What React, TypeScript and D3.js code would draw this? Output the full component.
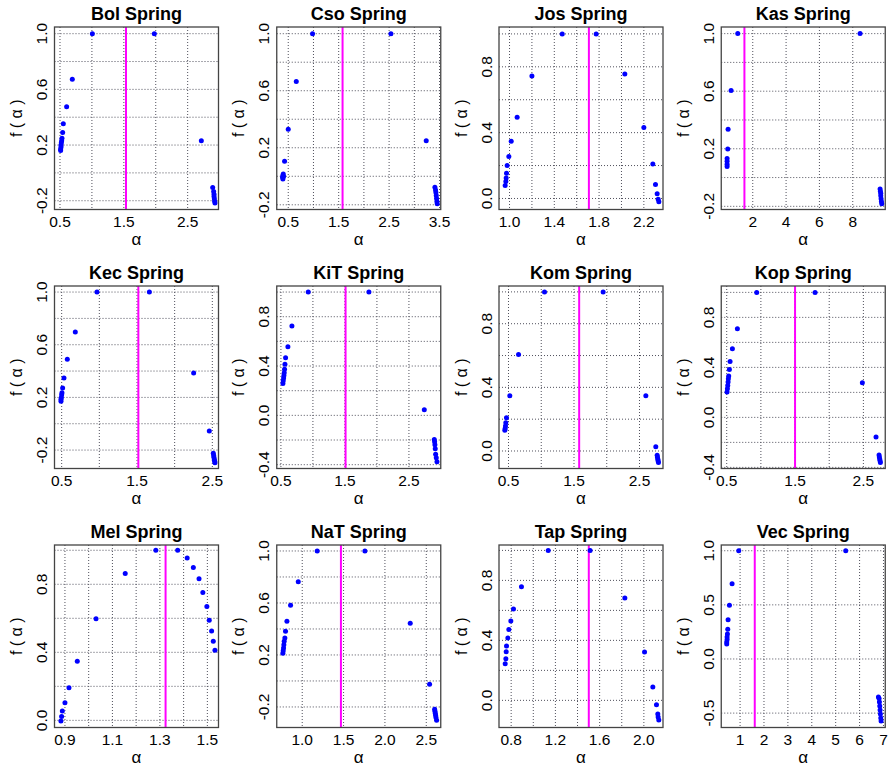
import React from 'react';
import * as d3 from 'd3';

type Pt = [number, number];

// Multifractal spectra: [α, f(α)] pairs for each spring
const bolSpring: Pt[] = [
  [1.007, 1.0], [1.978, 1.0], [0.693, 0.673], [0.604, 0.475], [0.552, 0.353], [0.542, 0.291],
  [0.531, 0.248], [0.526, 0.231], [0.521, 0.217], [0.516, 0.2], [0.516, 0.186], [0.51, 0.172],
  [0.51, 0.16], [2.714, 0.231], [2.892, -0.105], [2.907, -0.134], [2.913, -0.153], [2.913, -0.169],
  [2.918, -0.186], [2.923, -0.203], [2.928, -0.217],
];
const csoSpring: Pt[] = [
  [0.982, 1.0], [2.536, 1.0], [0.659, 0.664], [0.5, 0.329], [0.427, 0.105], [0.407, -0.002],
  [0.401, 0.016], [0.394, 0.005], [0.388, -0.007], [0.394, -0.019], [3.236, 0.249], [3.408, -0.077],
  [3.421, -0.096], [3.428, -0.114], [3.435, -0.135], [3.441, -0.156], [3.448, -0.177], [3.454, -0.193],
];
const josSpring: Pt[] = [
  [1.471, 1.0], [1.774, 1.0], [1.2, 0.745], [2.03, 0.756], [1.068, 0.493], [1.015, 0.347],
  [0.994, 0.255], [0.979, 0.2], [0.973, 0.154], [0.97, 0.125], [0.967, 0.103], [0.961, 0.079],
  [2.2, 0.432], [2.28, 0.21], [2.304, 0.085], [2.319, 0.028], [2.328, -0.004], [2.334, -0.02],
];
const kasSpring: Pt[] = [
  [1.1, 1.0], [8.44, 1.0], [0.7, 0.605], [0.52, 0.335], [0.5, 0.199], [0.46, 0.132], [0.46, 0.113],
  [0.46, 0.092], [0.46, 0.076], [9.64, -0.079], [9.66, -0.095], [9.68, -0.109], [9.68, -0.127],
  [9.7, -0.148], [9.72, -0.166], [9.74, -0.182],
];
const kecSpring: Pt[] = [
  [0.969, 1.0], [1.664, 1.0], [0.681, 0.696], [0.575, 0.489], [0.531, 0.347], [0.513, 0.271],
  [0.504, 0.235], [0.5, 0.22], [0.496, 0.2], [0.491, 0.185], [0.491, 0.17], [2.252, 0.385],
  [2.46, -0.056], [2.513, -0.225], [2.518, -0.241], [2.522, -0.256], [2.527, -0.271], [2.531, -0.284],
  [2.535, -0.296],
];
const kitSpring: Pt[] = [
  [0.927, 1.0], [1.875, 1.0], [0.672, 0.724], [0.609, 0.557], [0.573, 0.468], [0.563, 0.414],
  [0.557, 0.373], [0.552, 0.346], [0.547, 0.324], [0.542, 0.303], [0.536, 0.281], [0.531, 0.259],
  [2.74, 0.046], [2.896, -0.195], [2.901, -0.214], [2.906, -0.238], [2.911, -0.27], [2.917, -0.316],
  [2.927, -0.343], [2.938, -0.376],
];
const komSpring: Pt[] = [
  [1.05, 1.0], [1.945, 1.0], [0.653, 0.607], [0.52, 0.348], [0.469, 0.209], [0.459, 0.178],
  [0.454, 0.157], [0.449, 0.142], [0.444, 0.13], [2.597, 0.348], [2.749, 0.027], [2.77, -0.027],
  [2.775, -0.04], [2.78, -0.052], [2.785, -0.063], [2.79, -0.073],
];
const kopSpring: Pt[] = [
  [0.939, 1.0], [1.793, 1.0], [0.656, 0.709], [0.583, 0.549], [0.549, 0.448], [0.539, 0.384],
  [0.529, 0.331], [0.524, 0.309], [0.52, 0.283], [0.515, 0.256], [0.51, 0.229], [0.505, 0.203],
  [2.485, 0.277], [2.685, -0.157], [2.729, -0.301], [2.734, -0.317], [2.739, -0.333], [2.744, -0.347],
  [2.749, -0.36],
];
const melSpring: Pt[] = [
  [0.883, -0.004], [0.886, 0.022], [0.889, 0.055], [0.9, 0.104], [0.917, 0.192], [0.952, 0.347],
  [1.031, 0.598], [1.154, 0.863], [1.283, 1.0], [1.375, 1.0], [1.415, 0.955], [1.441, 0.898],
  [1.465, 0.833], [1.481, 0.751], [1.498, 0.669], [1.508, 0.588], [1.518, 0.525], [1.525, 0.465],
  [1.532, 0.412],
];
const natSpring: Pt[] = [
  [1.181, 1.0], [1.758, 1.0], [0.952, 0.764], [0.859, 0.582], [0.815, 0.459], [0.798, 0.382],
  [0.79, 0.331], [0.782, 0.305], [0.778, 0.279], [0.774, 0.254], [0.77, 0.233], [0.766, 0.213],
  [2.306, 0.444], [2.54, -0.026], [2.601, -0.218], [2.605, -0.233], [2.609, -0.249], [2.613, -0.264],
  [2.617, -0.282], [2.625, -0.303],
];
const tapSpring: Pt[] = [
  [1.135, 1.0], [1.514, 1.0], [0.893, 0.758], [0.821, 0.609], [0.797, 0.529], [0.779, 0.473],
  [0.77, 0.416], [0.758, 0.362], [0.755, 0.324], [0.752, 0.278], [0.746, 0.244], [1.828, 0.682],
  [2.006, 0.322], [2.081, 0.089], [2.114, -0.029], [2.126, -0.091], [2.129, -0.111], [2.135, -0.131],
];
const vecSpring: Pt[] = [
  [0.944, 1.0], [5.421, 1.0], [0.665, 0.696], [0.554, 0.496], [0.498, 0.363], [0.484, 0.274],
  [0.47, 0.231], [0.456, 0.203], [0.456, 0.179], [0.442, 0.157], [0.442, 0.139], [6.788, -0.351],
  [6.816, -0.366], [6.83, -0.397], [6.844, -0.434], [6.858, -0.471], [6.872, -0.508], [6.886, -0.545],
  [6.9, -0.573],
];

const springNames = [
  'Bol Spring', 'Cso Spring', 'Jos Spring', 'Kas Spring',
  'Kec Spring', 'KiT Spring', 'Kom Spring', 'Kop Spring',
  'Mel Spring', 'NaT Spring', 'Tap Spring', 'Vec Spring',
];
const spectra = [
  bolSpring, csoSpring, josSpring, kasSpring,
  kecSpring, kitSpring, komSpring, kopSpring,
  melSpring, natSpring, tapSpring, vecSpring,
];

// α at the vertical reference line of each spring
const meanAlpha = [1.534, 1.577, 1.709, 1.5, 1.518, 1.51, 1.579, 1.5, 1.324, 1.468, 1.502, 1.614];

// axis ranges (α and f(α))
const alphaRanges: Pt[] = [
  [0.414, 2.983], [0.272, 3.524], [0.906, 2.371], [0.11, 9.95],
  [0.405, 2.582], [0.435, 2.997], [0.355, 2.859], [0.42, 2.82],
  [0.856, 1.547], [0.692, 2.675], [0.69, 2.173], [0.212, 7.074],
];
const fRanges: Pt[] = [
  [-0.263, 1.048], [-0.233, 1.047], [-0.067, 1.042], [-0.222, 1.046],
  [-0.34, 1.046], [-0.431, 1.049], [-0.11, 1.037], [-0.409, 1.051],
  [-0.042, 1.031], [-0.358, 1.046], [-0.181, 1.036], [-0.633, 1.053],
];

// grid positions along α
const alphaTicks = [
  [0.5, 1, 1.5, 2, 2.5], [0.5, 1, 1.5, 2, 2.5, 3, 3.5], [1, 1.2, 1.4, 1.6, 1.8, 2, 2.2], [2, 4, 6, 8],
  [0.5, 1, 1.5, 2, 2.5], [0.5, 1, 1.5, 2, 2.5], [0.5, 1, 1.5, 2, 2.5], [0.5, 1, 1.5, 2, 2.5],
  [0.9, 1, 1.1, 1.2, 1.3, 1.4, 1.5], [1, 1.5, 2, 2.5], [0.8, 1, 1.2, 1.4, 1.6, 1.8, 2], [1, 2, 3, 4, 5, 6, 7],
];
// labelled α ticks
const alphaLabels = [
  ['0.5', '1.5', '2.5'], ['0.5', '1.5', '2.5', '3.5'], ['1.0', '1.4', '1.8', '2.2'], ['2', '4', '6', '8'],
  ['0.5', '1.5', '2.5'], ['0.5', '1.5', '2.5'], ['0.5', '1.5', '2.5'], ['0.5', '1.5', '2.5'],
  ['0.9', '1.1', '1.3', '1.5'], ['1.0', '1.5', '2.0', '2.5'], ['0.8', '1.2', '1.6', '2.0'], ['1', '2', '3', '4', '5', '6', '7'],
];
// grid positions along f(α)
const fTicks = [
  [-0.2, 0, 0.2, 0.4, 0.6, 0.8, 1], [-0.2, 0, 0.2, 0.4, 0.6, 0.8, 1], [0, 0.2, 0.4, 0.6, 0.8, 1], [-0.2, 0, 0.2, 0.4, 0.6, 0.8, 1],
  [-0.2, 0, 0.2, 0.4, 0.6, 0.8, 1], [-0.4, -0.2, 0, 0.2, 0.4, 0.6, 0.8, 1], [0, 0.2, 0.4, 0.6, 0.8, 1], [-0.4, -0.2, 0, 0.2, 0.4, 0.6, 0.8, 1],
  [0, 0.2, 0.4, 0.6, 0.8, 1], [-0.2, 0, 0.2, 0.4, 0.6, 0.8, 1], [0, 0.2, 0.4, 0.6, 0.8, 1], [-0.5, 0, 0.5, 1],
];
// labelled f(α) ticks
const fLabels = [
  ['-0.2', '0.2', '0.6', '1.0'], ['-0.2', '0.2', '0.6', '1.0'], ['0.0', '0.4', '0.8'], ['-0.2', '0.2', '0.6', '1.0'],
  ['-0.2', '0.2', '0.6', '1.0'], ['-0.4', '0.0', '0.4', '0.8'], ['0.0', '0.4', '0.8'], ['-0.4', '0.0', '0.4', '0.8'],
  ['0.0', '0.4', '0.8'], ['-0.2', '0.2', '0.6', '1.0'], ['0.0', '0.4', '0.8'], ['-0.5', '0.0', '0.5', '1.0'],
];

// panel layout
const COLS = 4;
const CELL_W = 222.25;
const CELL_H = 259;
const PLOT_L = 54.5;
const PLOT_R = 218.5;
const PLOT_T = 27;
const PLOT_B = 209.5;

const FONT = "'Liberation Sans', Arial, Helvetica, sans-serif";
const GRID = '#50505c';

function Panel({ i }: { i: number }) {
  const col = i % COLS;
  const row = Math.floor(i / COLS);
  const x = d3.scaleLinear().domain(alphaRanges[i]).range([PLOT_L, PLOT_R]);
  const y = d3.scaleLinear().domain(fRanges[i]).range([PLOT_B, PLOT_T]);
  const cx = (PLOT_L + PLOT_R) / 2;
  const cy = (PLOT_T + PLOT_B) / 2;

  return (
    <g transform={`translate(${col * CELL_W},${row * CELL_H})`} fontFamily={FONT}>
      <text x={cx} y={20} textAnchor="middle" fontSize={18} fontWeight="bold" fill="#000">
        {springNames[i]}
      </text>
      {alphaTicks[i].map((t) => (
        <line key={`gx${t}`} x1={x(t)} x2={x(t)} y1={PLOT_T} y2={PLOT_B}
          stroke={GRID} strokeWidth={1} strokeDasharray="1,2" />
      ))}
      {fTicks[i].map((t) => (
        <line key={`gy${t}`} x1={PLOT_L} x2={PLOT_R} y1={y(t)} y2={y(t)}
          stroke={GRID} strokeWidth={1} strokeDasharray="1,2" />
      ))}
      <line x1={x(meanAlpha[i])} x2={x(meanAlpha[i])} y1={PLOT_T} y2={PLOT_B}
        stroke="#ff00ff" strokeWidth={2} />
      {spectra[i].map(([a, f], k) => (
        <circle key={k} cx={x(a)} cy={y(f)} r={2.5} fill="#0000ff" />
      ))}
      <rect x={PLOT_L} y={PLOT_T} width={PLOT_R - PLOT_L} height={PLOT_B - PLOT_T}
        fill="none" stroke="#444" strokeWidth={1.3} />
      {alphaLabels[i].map((s) => (
        <text key={`lx${s}`} x={x(parseFloat(s))} y={PLOT_B + 17.5} textAnchor="middle" fontSize={15.5} fill="#000">
          {s}
        </text>
      ))}
      {fLabels[i].map((s) => (
        <text key={`ly${s}`} transform={`translate(${PLOT_L - 7.5},${y(parseFloat(s))}) rotate(-90)`}
          textAnchor="middle" fontSize={15.5} fill="#000">
          {s}
        </text>
      ))}
      <text x={cx} y={245} textAnchor="middle" fontSize={17} fill="#000">α</text>
      <text transform={`translate(22,${cy}) rotate(-90)`} textAnchor="middle" fontSize={16} fill="#000">
        f ( α )
      </text>
    </g>
  );
}

export default function App() {
  return (
    <svg width={890} height={768} viewBox="0 0 890 768"
      style={{ position: 'absolute', left: 0, top: 0, display: 'block', background: '#fff' }}>
      <rect width={890} height={768} fill="#fff" />
      {springNames.map((_, i) => (
        <Panel key={i} i={i} />
      ))}
    </svg>
  );
}
